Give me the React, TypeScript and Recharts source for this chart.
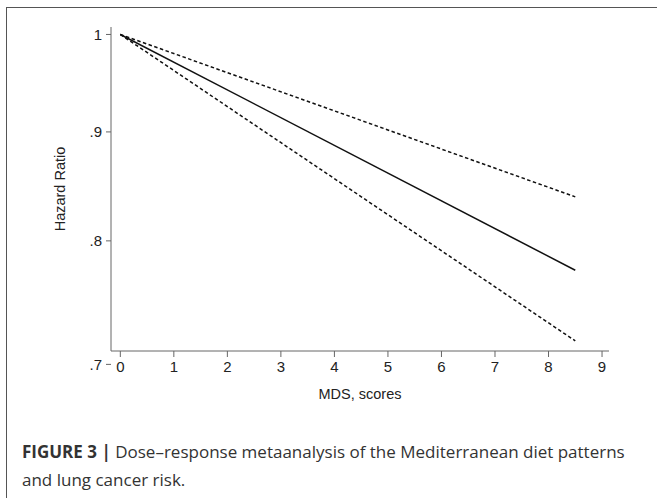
import React from 'react';
import { LineChart, Line, XAxis, YAxis } from 'recharts';

// MDS score (x) and hazard ratio estimates
const scores = [0, 8.5];
const hrEstimate = [1, 0.775];
const hrUpper = [1, 0.839];
const hrLower = [1, 0.718];

const xTicks = [0, 1, 2, 3, 4, 5, 6, 7, 8, 9];
const yTicks = [0.7, 0.8, 0.9, 1];

const data = scores.map((s, i) => ({
  mds: s,
  hr: hrEstimate[i],
  upper: hrUpper[i],
  lower: hrLower[i],
}));

const fmtY = (v: number) => (v === 1 ? '1' : String(v).replace(/^0/, ''));

const axisColor = '#666';
const textColor = '#222';
const font = '"Liberation Sans", Arial, sans-serif';

export default function App() {
  return (
    <div
      style={{
        position: 'absolute',
        left: 0,
        top: 0,
        width: 657,
        height: 498,
        overflow: 'hidden',
        background: '#fff',
        fontFamily: font,
      }}
    >
      <div
        style={{
          position: 'absolute',
          left: 6,
          top: 7,
          width: 700,
          height: 560,
          border: '1.5px solid #555',
        }}
      />
      <div style={{ position: 'absolute', left: 0, top: 0 }}>
        <LineChart
          width={657}
          height={420}
          data={data}
          margin={{ top: 27, right: 48, left: 50, bottom: 19 }}
        >
          <XAxis
            dataKey="mds"
            type="number"
            domain={[-0.174, 9.13]}
            allowDataOverflow
            ticks={xTicks}
            interval={0}
            height={50}
            tickSize={6}
            tickMargin={4}
            stroke={axisColor}
            fontSize={15}
            tick={{ fill: textColor, fontSize: 15 }}
            label={{
              value: 'MDS, scores',
              position: 'insideBottom',
              offset: 2,
              fill: textColor,
              fontSize: 14.5,
            }}
          />
          <YAxis
            type="number"
            scale="log"
            domain={[0.7102, 1.0081]}
            allowDataOverflow
            ticks={yTicks}
            interval={0}
            tickFormatter={fmtY}
            width={61}
            tickSize={5}
            tickMargin={4}
            stroke={axisColor}
            fontSize={15}
            tick={{ fill: textColor, fontSize: 15 }}
            label={{
              value: 'Hazard Ratio',
              angle: -90,
              position: 'insideLeft',
              offset: 10,
              fill: textColor,
              fontSize: 14.5,
              style: { textAnchor: 'middle' },
            }}
          />
          <Line
            dataKey="upper"
            stroke="#111"
            strokeWidth={1.5}
            strokeDasharray="3.5 2.5"
            dot={false}
            isAnimationActive={false}
          />
          <Line
            dataKey="lower"
            stroke="#111"
            strokeWidth={1.5}
            strokeDasharray="3.5 2.5"
            dot={false}
            isAnimationActive={false}
          />
          <Line
            dataKey="hr"
            stroke="#111"
            strokeWidth={1.5}
            dot={false}
            isAnimationActive={false}
          />
        </LineChart>
      </div>
      <div
        style={{
          position: 'absolute',
          left: 22,
          top: 438,
          width: 632,
          fontFamily: '"Open Sans", sans-serif',
          fontSize: 17,
          lineHeight: '28px',
          color: '#333',
          whiteSpace: 'nowrap',
        }}
      >
        <div>
          <b>FIGURE 3 |</b> Dose–response metaanalysis of the Mediterranean diet patterns
        </div>
        <div>and lung cancer risk.</div>
      </div>
    </div>
  );
}
